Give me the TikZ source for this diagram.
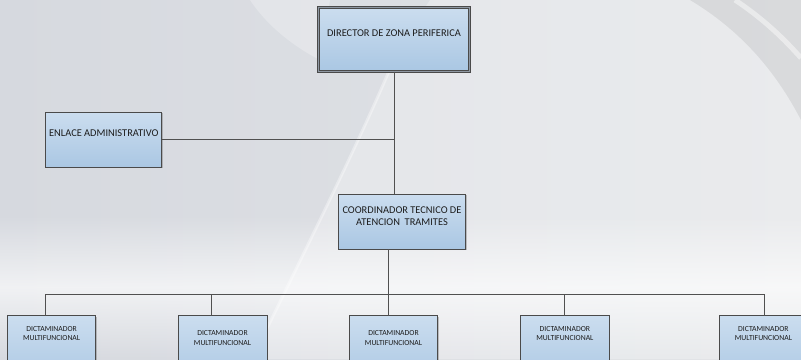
\documentclass[tikz,border=0pt]{standalone}
\usepackage{fontspec}
\setmainfont{Carlito}
\usetikzlibrary{shadows,fadings}

\definecolor{boxtop}{HTML}{CBDDEF}
\definecolor{boxbot}{HTML}{AAC7E3}
\definecolor{edge}{HTML}{4A4A4A}
\definecolor{gap}{HTML}{8E97A2}
\definecolor{wire}{HTML}{505050}
\definecolor{ink}{HTML}{1C1C1C}
\definecolor{bgleft}{HTML}{D6D9DF}
\definecolor{bgright}{HTML}{E2E4E7}

\tikzfading[name=bandfade, top color=transparent!100, bottom color=transparent!100, middle color=transparent!35]

\begin{document}
\begin{tikzpicture}[x=1pt,y=-1pt,
  unit/.style={rectangle, inner sep=0pt, outer sep=0pt, draw=edge, line width=0.9pt,
    top color=boxtop, bottom color=boxbot,
    drop shadow={shadow xshift=1.2pt, shadow yshift=-1.2pt, opacity=0.3, fill=black!70}},
  headunit/.style={unit, line width=0.8pt, double=gap, double distance=1.4pt},
  bigtext/.style={font=\fontsize{10.4}{12.6}\selectfont, text=ink, align=center, inner sep=0pt},
  smalltext/.style={font=\fontsize{7.7}{9.4}\selectfont, text=ink, align=center, inner sep=0pt},
  wireline/.style={draw=wire, line width=0.9pt}
]
\useasboundingbox (0,0) rectangle (801,359);
\clip (0,0) rectangle (801,359);

% backdrop: soft grey with a light diagonal sweep and a pale band near the bottom
\shade[left color=bgleft, right color=bgright] (0,0) rectangle (801,359);
\fill[white, opacity=0.28] (252,359) .. controls (320,220) and (365,130) .. (400,45)
  -- (430,0) -- (801,0) -- (801,359) -- cycle;
\draw[white, opacity=0.35, line width=3pt] (252,359) .. controls (320,220) and (365,130) .. (400,45);
\fill[white, path fading=bandfade] (0,215) rectangle (801,359);
\fill[black, opacity=0.07] (690,0) .. controls (740,30) and (775,70) .. (801,120) -- (801,0) -- cycle;
\draw[white, opacity=0.45, line width=5pt] (735,0) .. controls (765,20) and (785,40) .. (801,58);
\fill[white, opacity=0.25] (250,0) .. controls (270,30) and (300,50) .. (320,60) -- (330,0) -- cycle;

% boxes
\node[headunit, minimum width=151pt, minimum height=64pt] (dir) at (394,39.5) {};
\node[bigtext] (dirtext) at (394,33) {DIRECTOR DE ZONA PERIFERICA};

\node[unit, minimum width=116pt, minimum height=55pt] (enl) at (103.8,139.7) {};
\node[bigtext] (enltext) at (103.8,133) {ENLACE ADMINISTRATIVO};

\node[unit, minimum width=127pt, minimum height=55pt] (coord) at (402,221.7) {};
\node[bigtext] (coordtext) at (402,216.3) {COORDINADOR TECNICO DE\\ATENCION\ \ TRAMITES};

\node[unit, minimum width=88.5pt, minimum height=70pt] (dic1) at (51.6,350.7) {};
\node[smalltext] (dic1text) at (51.6,333.6) {DICTAMINADOR\\MULTIFUNCIONAL};
\node[unit, minimum width=89pt, minimum height=70pt] (dic2) at (222.5,350.7) {};
\node[smalltext] (dic2text) at (222.5,338) {DICTAMINADOR\\MULTIFUNCIONAL};
\node[unit, minimum width=88pt, minimum height=70pt] (dic3) at (393.5,350.7) {};
\node[smalltext] (dic3text) at (393.5,338) {DICTAMINADOR\\MULTIFUNCIONAL};
\node[unit, minimum width=88.3pt, minimum height=70pt] (dic4) at (564.9,350.7) {};
\node[smalltext] (dic4text) at (564.9,333.4) {DICTAMINADOR\\MULTIFUNCIONAL};
\node[unit, minimum width=88.3pt, minimum height=70pt] (dic5) at (763.6,350.7) {};
\node[smalltext] (dic5text) at (763.4,333.4) {DICTAMINADOR\\MULTIFUNCIONAL};

% junction points on the connectors
\coordinate (spine) at (394,139);
\coordinate (stem) at (388.6,294.3);
\coordinate (b1) at (45.3,294.3);
\coordinate (b2) at (211.5,294.3);
\coordinate (b4) at (564.6,294.3);
\coordinate (b5) at (764,294.3);

% connectors
\draw[wireline] (dir.south -| spine) -- (coord.north -| spine);
\draw[wireline] (enl.east) -- (enl.east -| spine);
\draw[wireline] (coord.south -| stem) -- (dic3.north -| stem);
\draw[wireline] (b1) -- (b5);
\draw[wireline] (b1) -- (dic1.north -| b1);
\draw[wireline] (b2) -- (dic2.north -| b2);
\draw[wireline] (b4) -- (dic4.north -| b4);
\draw[wireline] (b5) -- (dic5.north -| b5);
\end{tikzpicture}
\end{document}
